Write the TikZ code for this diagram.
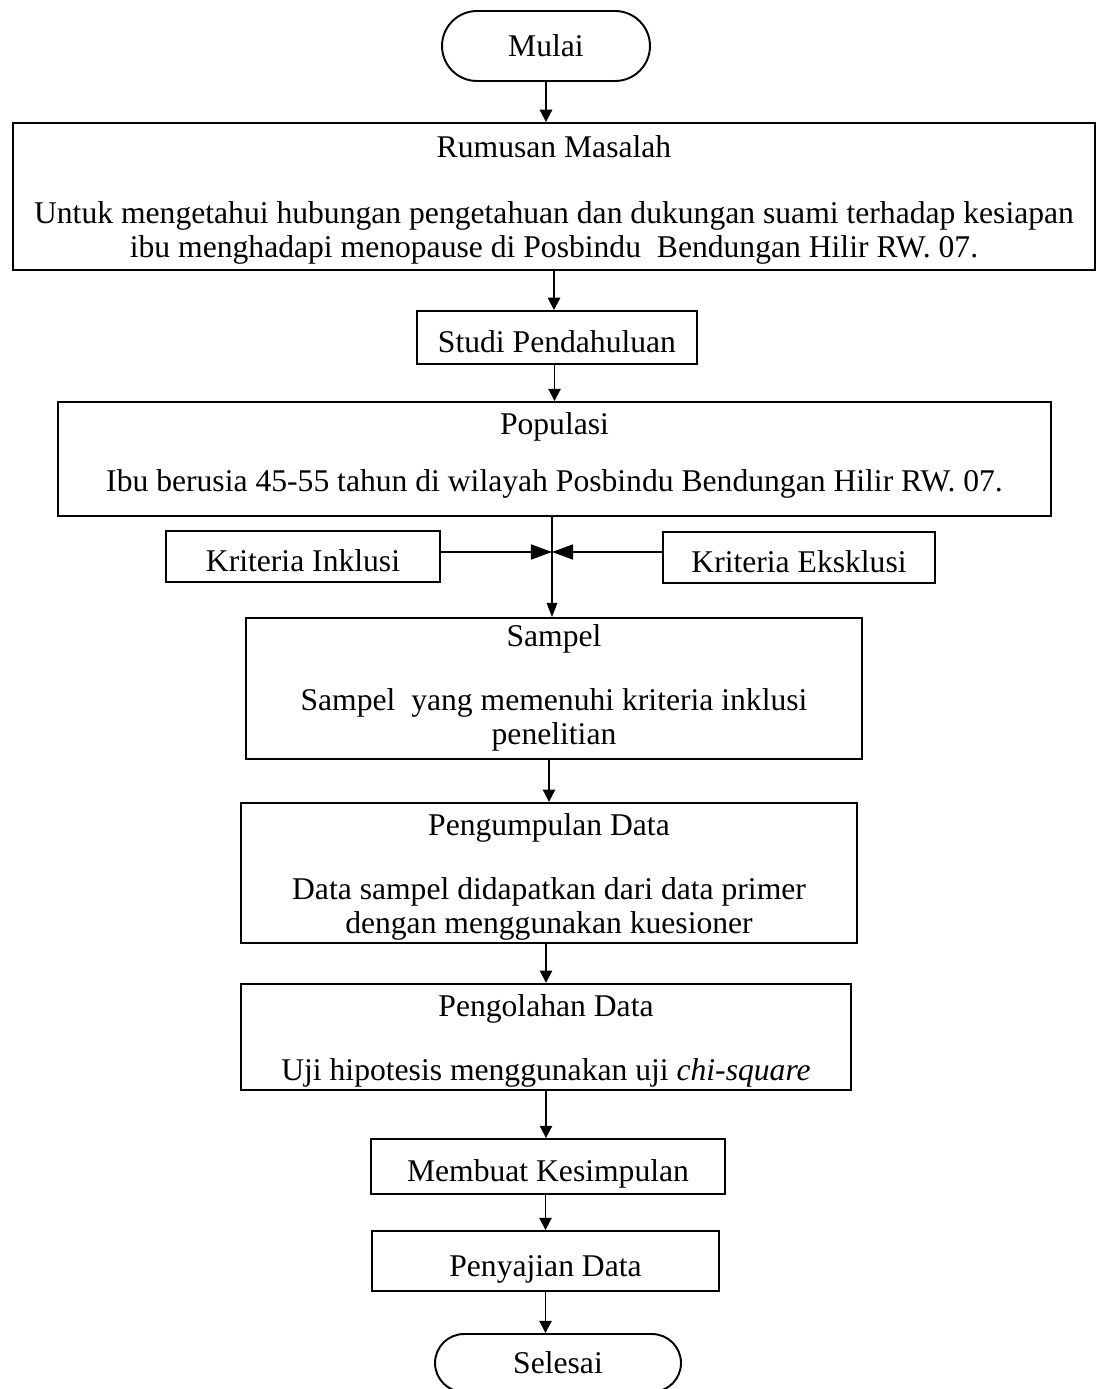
\documentclass[tikz,border=0pt]{standalone}
\usepackage{fontspec}
\setmainfont{Liberation Serif}
\usepackage{tikz}
\usetikzlibrary{arrows.meta,positioning,shapes.misc,calc}
\newcommand{\teks}{\fontsize{18}{19.3}\selectfont}
\newcommand{\atas}[1]{\rule{0pt}{#1}}
\newcommand{\dalam}[1]{\rule[-#1]{0pt}{0pt}}
\tikzstyle{kotak}=[draw, line width=1.1pt, align=center, inner sep=0pt, font=\teks]
\tikzstyle{mulaiSelesai}=[kotak, rounded rectangle]
\tikzstyle{line}=[draw, line width=1.1pt, -{Triangle[length=7pt,width=7pt]}]
\tikzstyle{samping}=[draw, line width=1.1pt, -{Triangle[length=12pt,width=8.5pt]}]
\tikzstyle{tipis}=[draw, line width=0.6pt, -{Triangle[length=8pt,width=6pt]}]
\newcommand{\kotak}[4]{node (p#1)[kotak,#2]{\atas{#3}#4\strut}}
\newcommand{\satu}[3]{node (p#1)[kotak,#2]{\atas{23pt}#3\strut}}
\newcommand{\ujung}[3]{node (p#1)[mulaiSelesai,#2]{#3}}

\begin{document}
\begin{tikzpicture}[x=0.02cm,y=-0.02cm]
		\useasboundingbox (0,0) rectangle (1102,1389);
		
		% Draw diagram elements
		\path (546,46) \ujung{1}{minimum width=4.16cm, minimum height=1.4cm}{Mulai};
		\path (554,196.5) \kotak{2}{minimum width=21.64cm, minimum height=2.94cm}{18.5pt}{Rumusan Masalah\\[18pt]
			Untuk mengetahui hubungan pengetahuan dan dukungan suami terhadap kesiapan\\
			ibu menghadapi menopause di Posbindu\ \ Bendungan Hilir RW. 07.};
		\path (557,337.5) \satu{3}{minimum width=5.6cm, minimum height=1.06cm}{Studi Pendahuluan};
		\path (554.5,459) \kotak{4}{minimum width=19.86cm, minimum height=2.28cm}{18.5pt}{Populasi\\[13pt]
			Ibu berusia 45-55 tahun di wilayah Posbindu Bendungan Hilir RW. 07.\dalam{13.8pt}};
		\path (303,556.5) \satu{5}{minimum width=5.48cm, minimum height=0.98cm}{Kriteria Inklusi};
		\path (799,557.5) \satu{6}{minimum width=5.44cm, minimum height=1.02cm}{Kriteria Eksklusi};
		\path (554,688.5) \kotak{7}{minimum width=12.32cm, minimum height=2.82cm}{13.5pt}{Sampel\\[17pt]
			Sampel\ \ yang memenuhi kriteria inklusi\\ penelitian};
		\path (549,873) \kotak{8}{minimum width=12.32cm, minimum height=2.8cm}{18.5pt}{Pengumpulan Data\\[17pt]
			Data sampel didapatkan dari data primer\\ dengan menggunakan kuesioner};
		\path (546,1037) \kotak{9}{minimum width=12.2cm, minimum height=2.08cm}{18.5pt}{Pengolahan Data\\[17pt]
			Uji hipotesis menggunakan uji \textit{chi-square}};
		\path (548,1166.5) \satu{10}{minimum width=7.08cm, minimum height=1.1cm}{Membuat Kesimpulan};
		\path (545.5,1261) \satu{11}{minimum width=6.94cm, minimum height=1.2cm}{Penyajian Data};
		\path (558,1363) \ujung{12}{minimum width=4.92cm, minimum height=1.16cm}{Selesai};
		
		\coordinate (temu) at (552,552);
		
		% Draw arrows between elements
		\path [line] (p1.south) -- (p1.south |- p2.north);
		\path [line] (p2.south) -- (p2.south |- p3.north);
		\path [line] (p3.south -| p4.north) -- (p4.north);
		\path [tipis] (p4.south -| temu) -- (temu |- p7.north);
		\path [samping] (p5.east |- temu) -- (temu);
		\path [samping] (p6.west |- temu) -- (temu);
		\path [line] (p7.south -| p8.north) -- (p8.north);
		\path [line] (p8.south -| p9.north) -- (p9.north);
		\path [line] (p9.south) -- (p9.south |- p10.north);
		\path [line] (p10.south -| p11.north) -- (p11.north);
		\path [line] (p11.south) -- (p11.south |- p12.north);
		
\end{tikzpicture}
\end{document}
